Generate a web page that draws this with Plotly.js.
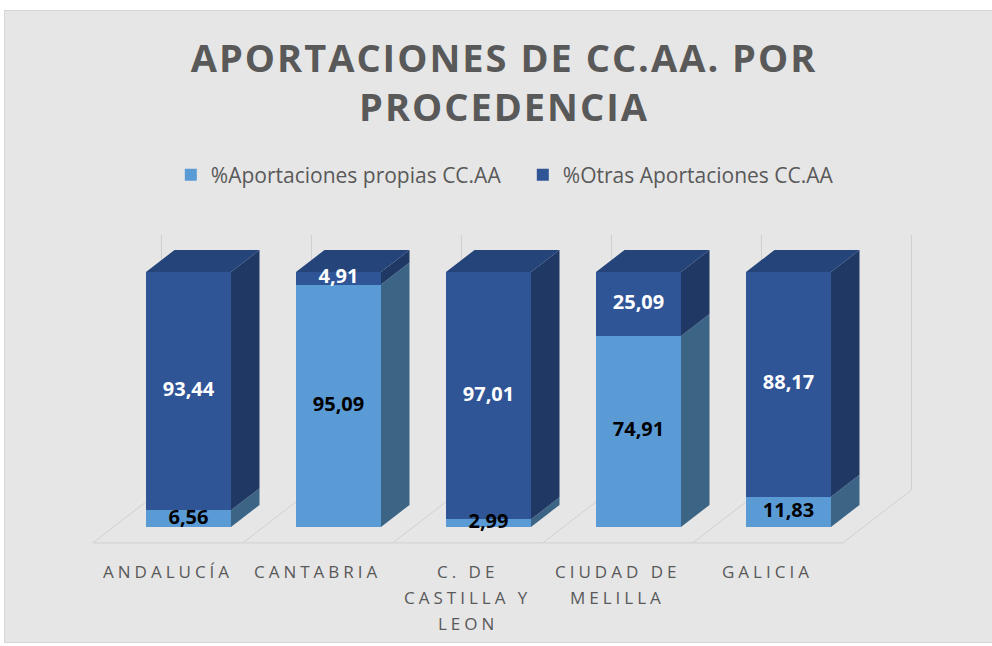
<!DOCTYPE html>
<html>
<head>
<meta charset="utf-8">
<script src="https://cdn.plot.ly/plotly-3.0.1.min.js"></script>
<style>
  html, body { margin:0; padding:0; background:#ffffff; width:992px; height:646px; overflow:hidden; }
  #wrap { position:absolute; left:4px; top:10px; width:987px; height:631px; border:1px solid #d6d6d6; background:#e6e6e6; }
  #chart { width:987px; height:631px; }
  .gtitle { letter-spacing:2px; }
  .annotation-text { letter-spacing:4px; }
</style>
</head>
<body>
<div id="wrap"><div id="chart"></div></div>
<script>
// ---- data ----
const categories = ['ANDALUCÍA', 'CANTABRIA', 'C. DE CASTILLA Y LEON', 'CIUDAD DE MELILLA', 'GALICIA'];
const tickLabels = [['ANDALUCÍA'], ['CANTABRIA'], ['C. DE', 'CASTILLA Y', 'LEON'], ['CIUDAD DE', 'MELILLA'], ['GALICIA']];
const propias = [6.56, 95.09, 2.99, 74.91, 11.83];
const otras = [93.44, 4.91, 97.01, 25.09, 88.17];
const seriesNames = ['%Aportaciones propias CC.AA', '%Otras Aportaciones CC.AA'];
const titleText = 'APORTACIONES DE CC.AA. POR<br>PROCEDENCIA';

// ---- styling / projection constants ----
const FONT = 'Open Sans, Liberation Sans, sans-serif';
const GREY = '#595959';
const C_LIGHT = '#5b9bd5', C_LIGHT_SIDE = '#3c6485';
const C_DARK = '#2f5597', C_DARK_SIDE = '#1f3864', C_DARK_TOP = '#25447a';
const HW = 42.5 / 150;          // half bar width (x units)
const DXu = 28.5 / 150;         // depth offset per unit depth (x units)
const DYu = 22 / 2.55;          // depth offset per unit depth (y units)
const zF = -0.727, zB = 1.682;  // floor front / back depth
const LINE = '#d0d0d0';

const xs = categories.map((_, i) => i);
const fmt = v => v.toFixed(2).replace('.', ',');

// front faces
const traces = [
  { type:'bar', x: xs, y: propias, name: seriesNames[0], width: 2*HW,
    marker:{ color: C_LIGHT, line:{width:0} }, hoverinfo:'skip' },
  { type:'bar', x: xs, y: otras, name: seriesNames[1], width: 2*HW,
    marker:{ color: C_DARK, line:{width:0} }, hoverinfo:'skip' }
];

// side and top faces (projected from data)
function sidePoly(i, v0, v1) {
  const xr = i + HW;
  return { x:[xr, xr+DXu, xr+DXu, xr, xr, null], y:[v0, v0+DYu, v1+DYu, v1, v0, null] };
}
function topPoly(i, v) {
  return { x:[i-HW, i-HW+DXu, i+HW+DXu, i+HW, i-HW, null], y:[v, v+DYu, v+DYu, v, v, null] };
}
function merge(polys) {
  const o = {x:[], y:[]};
  polys.forEach(p => { o.x.push(...p.x); o.y.push(...p.y); });
  return o;
}
const lightSide = merge(xs.map(i => sidePoly(i, 0, propias[i])));
const darkSide = merge(xs.map(i => sidePoly(i, propias[i], propias[i] + otras[i])));
const darkTop = merge(xs.map(i => topPoly(i, propias[i] + otras[i])));
[[lightSide, C_LIGHT_SIDE], [darkSide, C_DARK_SIDE], [darkTop, C_DARK_TOP]].forEach(([p, c]) => {
  traces.push({ type:'scatter', mode:'none', x:p.x, y:p.y, fill:'toself', fillcolor:c,
    showlegend:false, hoverinfo:'skip', line:{width:0} });
});

// data labels
traces.push({ type:'scatter', mode:'text', x: xs, y: propias.map(v => v/2),
  text: propias.map(fmt), textposition:'middle center', cliponaxis:false,
  textfont:{ family: FONT, size: 20, weight: 'bold', color:'#000000' },
  showlegend:false, hoverinfo:'skip' });
traces.push({ type:'scatter', mode:'text', x: xs, y: otras.map((v, i) => propias[i] + v/2),
  text: otras.map(fmt), textposition:'middle center', cliponaxis:false,
  textfont:{ family: FONT, size: 20, weight: 'bold', color:'#ffffff' },
  showlegend:false, hoverinfo:'skip' });

// floor + back wall lines
const shapes = [];
const nB = categories.length;
for (let k = 0; k <= nB; k++) {
  const b = k - 0.5;
  shapes.push({ type:'line', layer:'below', xref:'x', yref:'y',
    x0: b + zF*DXu, y0: zF*DYu, x1: b + zB*DXu, y1: zB*DYu, line:{color:LINE, width:1} });
  shapes.push({ type:'line', layer:'below', xref:'x', yref:'y',
    x0: b + zB*DXu, y0: zB*DYu, x1: b + zB*DXu, y1: 100 + zB*DYu, line:{color:LINE, width:1} });
}
shapes.push({ type:'line', layer:'below', xref:'x', yref:'y',
  x0: -0.5 + zF*DXu, y0: zF*DYu, x1: nB - 0.5 + zF*DXu, y1: zF*DYu, line:{color:LINE, width:1} });

// category labels (one annotation per line)
const annotations = [];
const LINE_STEP = 26 / 2.55;
tickLabels.forEach((lines, i) => {
  lines.forEach((t, j) => {
    annotations.push({ xref:'x', yref:'y', x: i + zF*DXu, y: -17.65 - j*LINE_STEP,
      text: t, showarrow:false, xanchor:'center', yanchor:'middle',
      font:{ family: FONT, size: 17, color: GREY } });
  });
});

const layout = {
  width: 987, height: 631,
  paper_bgcolor:'#e6e6e6', plot_bgcolor:'rgba(0,0,0,0)',
  margin:{ l:33, r:54, t:210, b:7.9, autoexpand:false },
  barmode:'stack',
  title:{ text: titleText, x:0.5056, xref:'container', xanchor:'center',
    y: 0.904, yref:'container', yanchor:'middle',
    font:{ family: FONT, size: 38, weight:'bold', color: GREY } },
  legend:{ orientation:'h', traceorder:'normal', xref:'container', yref:'container', x:0.168, xanchor:'left',
    y:0.740, yanchor:'middle', entrywidth: 307, entrywidthmode:'pixels',
    font:{ family: FONT, size: 21, color: GREY }, bgcolor:'rgba(0,0,0,0)' },
  xaxis:{ range:[-1.0033, 4.9967], visible:false, fixedrange:true },
  yaxis:{ range:[-42, 120], visible:false, fixedrange:true },
  shapes: shapes,
  annotations: annotations,
  showlegend: true
};

Plotly.newPlot('chart', traces, layout, { staticPlot:true, displayModeBar:false });
</script>
</body>
</html>
